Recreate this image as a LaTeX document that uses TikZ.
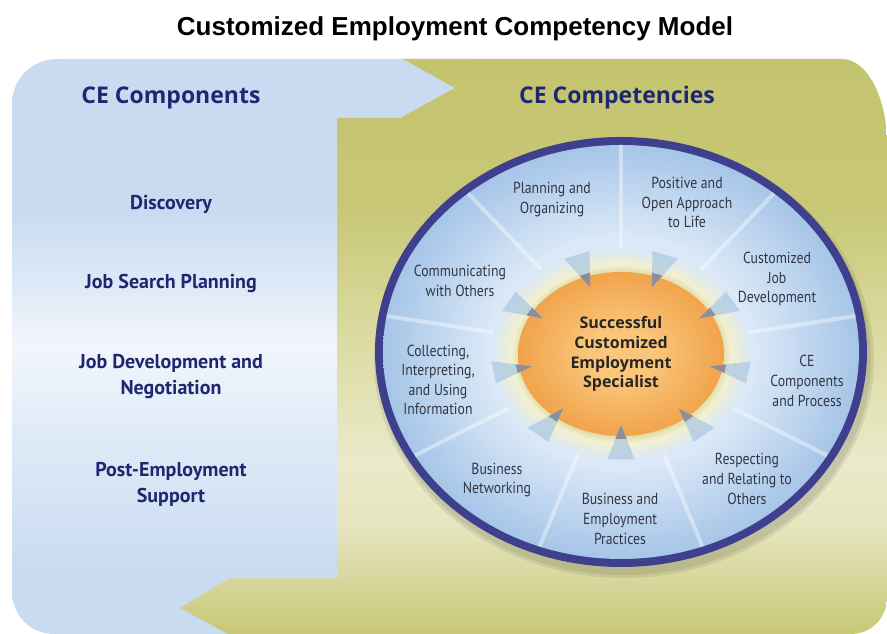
\documentclass[tikz,border=0pt]{standalone}
\usepackage{fontspec}
\setmainfont{Liberation Sans}
\newfontfamily\headfont{Open Sans}
\newfontfamily\itemfont{PT Sans}
\newfontfamily\segfont{PT Sans}[FakeStretch=0.86]
\usepackage{tikz}
\usetikzlibrary{positioning,calc,shapes.geometric}

\definecolor{navytext}{RGB}{30,40,112}
\definecolor{rimnavy}{RGB}{62,64,142}
\definecolor{paneblue}{RGB}{200,219,241}
\definecolor{paneglow}{RGB}{242,246,252}
\definecolor{olivetop}{RGB}{196,196,110}
\definecolor{olivemid}{RGB}{214,214,150}
\definecolor{olivelight}{RGB}{234,234,202}
\definecolor{olivelow}{RGB}{200,199,118}
\definecolor{wheelin}{RGB}{218,232,247}
\definecolor{wheelout}{RGB}{166,197,232}
\definecolor{haloin}{RGB}{218,216,158}
\definecolor{halomid}{RGB}{242,240,207}
\definecolor{corelite}{RGB}{249,198,122}
\definecolor{coredeep}{RGB}{241,163,74}
\definecolor{segtext}{RGB}{50,55,68}
\definecolor{hubtext}{RGB}{40,38,36}
\definecolor{pointblue}{RGB}{170,199,226}
\definecolor{pointgray}{RGB}{140,142,156}

\pgfdeclareverticalshading{bluepane}{100bp}{color(0bp)=(paneblue); color(30bp)=(paneblue); color(43bp)=(paneblue!55!white); color(50bp)=(paneglow); color(56bp)=(paneblue!65!white); color(62bp)=(paneblue); color(100bp)=(paneblue)}
\pgfdeclareverticalshading{olivepane}{100bp}{color(0bp)=(olivelow); color(25bp)=(olivelow); color(34bp)=(olivelight!85!olivelow); color(40bp)=(olivelight); color(54bp)=(olivemid); color(62bp)=(olivetop!80!olivemid); color(75bp)=(olivetop); color(100bp)=(olivetop)}
\pgfdeclareradialshading{wheelblue}{\pgfpoint{0bp}{0bp}}{color(0bp)=(wheelin); color(14bp)=(wheelin); color(25bp)=(wheelout); color(50bp)=(wheelout)}
\pgfdeclareradialshading{halo}{\pgfpoint{0bp}{0bp}}{color(0bp)=(haloin); color(19bp)=(haloin); color(21bp)=(halomid); color(25bp)=(wheelin); color(50bp)=(wheelin)}
\pgfdeclareradialshading{corefill}{\pgfpoint{0bp}{0bp}}{color(0bp)=(corelite); color(8bp)=(corelite); color(25bp)=(coredeep); color(50bp)=(coredeep)}

\begin{document}
\begin{tikzpicture}[x=1pt, y=1pt,
    pane/.style={shade, shading=#1},
    maintitle/.style={font=\bfseries\fontsize{26}{30}\selectfont},
    panehead/.style={text=navytext, font=\headfont\bfseries\fontsize{23}{28}\selectfont},
    component/.style={text=navytext, align=center, font=\itemfont\bfseries\fontsize{20}{26}\selectfont},
    competency/.style={text=segtext, align=center, font=\segfont\fontsize{16}{19.6}\selectfont},
    spoke/.style={white, opacity=.4, line width=4pt},
    core/.style={ellipse, shade, shading=corefill, minimum width=206pt, minimum height=164pt, inner sep=0pt,
        align=center, text=hubtext, font=\headfont\bfseries\fontsize{16}{19.7}\selectfont}]
    \useasboundingbox (0,0) rectangle (887,634);
    \fill[white] (0,0) rectangle (887,634);

    \path[pane=bluepane] (12,42) -- (12,530) arc[start angle=180, end angle=90, radius=45] -- (470,575)
        -- (470,0) -- (54,0) arc[start angle=270, end angle=180, radius=42] -- cycle;
    \path[pane=olivepane] (403,575) -- (842,575) arc[start angle=90, end angle=0, x radius=45, y radius=85]
        -- (887,36) arc[start angle=0, end angle=-90, radius=36] -- (851,0) -- (228,0) -- (180,26)
        -- (230,56) -- (337,56) -- (337,516) -- (400,516) -- (455,546) -- cycle;

    \node[maintitle] (title) at (455,605) {Customized Employment Competency Model};
    \node[panehead] (components) at (171,536) {CE Components};
    \node[panehead] (competencies) at (617,536) {CE Competencies};

    \node[component] (discovery) at (171,430) {Discovery};
    \node[component] (search) at (171,351) {Job Search Planning};
    \node[component] (development) at (171,257) {Job Development and\\Negotiation};
    \node[component] (support) at (171,150) {Post-Employment\\Support};

    \coordinate (hub) at (621,282);
    \coordinate (heart) at (621,280);
    \foreach \d in {6,3}
        \fill[black, opacity=.08] ($(hub)+(3,-7)$) ellipse [x radius=244+\d, y radius=213+\d];
    \fill[rimnavy] (hub) ellipse [x radius=246, y radius=215];
    \path[pane=wheelblue] (hub) ellipse [x radius=238, y radius=207];
    \foreach \a in {90,50,10,-30,-70,-110,-150,170,130}
        \draw[spoke] ($(hub)+(\a:120pt and 104pt)$) -- ($(hub)+(\a:238pt and 207pt)$);
    \path[pane=halo] (heart) ellipse [x radius=130, y radius=106];

    \node[core] (core) at (heart) {Successful\\Customized\\Employment\\Specialist};
    \foreach \a in {110,70,30,-10,-50,-90,-130,190,150} {
        \fill[pointblue, opacity=.7] ($(heart)+(\a+6:130pt and 106pt)$) -- ($(heart)+(\a:90pt and 71pt)$)
            -- ($(heart)+(\a-6:130pt and 106pt)$) -- cycle;
        \fill[pointgray] ($(heart)+(\a+3:106pt and 85pt)$) -- ($(heart)+(\a:90pt and 71pt)$)
            -- ($(heart)+(\a-3:106pt and 85pt)$) -- cycle;
    }

    \node[competency] (planning) at (552,434.5) {Planning and\\Organizing};
    \node[competency] (positive) at (687,431.5) {Positive and\\Open Approach\\to Life};
    \node[competency] (jobdev) at (777,355) {Customized\\Job\\Development};
    \node[competency] (process) at (807,253) {CE\\Components\\and Process};
    \node[competency] (respect) at (747,155) {Respecting\\and Relating to\\Others};
    \node[competency] (practices) at (620,115) {Business and\\Employment\\Practices};
    \node[competency] (networking) at (497,154) {Business\\Networking};
    \node[competency] (collecting) at (438,254) {Collecting,\\Interpreting,\\and Using\\Information};
    \node[competency] (communicating) at (460,353) {Communicating\\with Others};
\end{tikzpicture}
\end{document}
